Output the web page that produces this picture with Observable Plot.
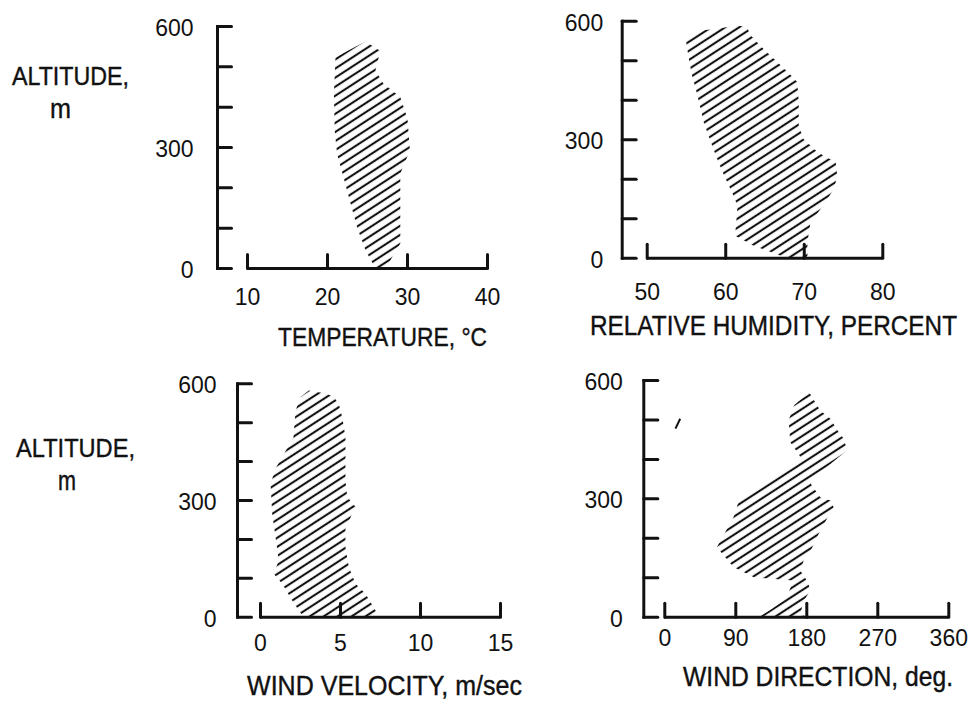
<!DOCTYPE html>
<html>
<head>
<meta charset="utf-8">
<script src="https://cdn.jsdelivr.net/npm/d3@7"></script>
<script src="https://cdn.jsdelivr.net/npm/@observablehq/plot@0.6"></script>
<style>
  body { margin: 0; background: #fff; }
  #fig { position: relative; width: 972px; height: 701px; background: #fff; overflow: hidden;
         font-family: "Liberation Sans", Arial, sans-serif; color: #111; }
  #fig > svg { position: absolute; overflow: visible; }
</style>
</head>
<body>
<svg width="0" height="0" style="position:absolute">
  <defs>
    <pattern id="hatch" patternUnits="userSpaceOnUse" width="12" height="7.6" patternTransform="rotate(-33)">
      <line x1="0" y1="3.8" x2="12" y2="3.8" stroke="#111" stroke-width="2.1"></line>
    </pattern>
  </defs>
</svg>
<div id="fig"></div>
<script>
// ---- axis ticks ----
const altTicks = [0, 100, 200, 300, 400, 500, 600];
const altLabels = [0, 300, 600];
const tempTicks = [10, 20, 30, 40];
const humidityTicks = [50, 60, 70, 80];
const velocityTicks = [0, 5, 10, 15];
const directionTicks = [0, 90, 180, 270, 360];

// ---- observed envelopes: [value, altitude m], outline traced around the hatched band ----
const tempBand = [
  [26.0, 0], [24.75, 45], [23.7, 102], [22.9, 160], [22.0, 226], [21.2, 284], [20.9, 342],
  [20.8, 433], [21.0, 524], [24.75, 563], [26.6, 539], [26.0, 491], [27.0, 458], [29.1, 425],
  [30.0, 371], [30.3, 293], [29.1, 235], [29.1, 62], [27.6, 12], [26.8, 0]
];
const humidityBand = [
  [67.9, 0], [63.5, 32], [61.2, 57], [61.5, 133], [60.8, 167], [59.8, 209], [58.9, 252],
  [58.1, 294], [57.2, 344], [56.4, 412], [55.7, 463], [55.3, 505], [54.9, 555], [57.2, 577],
  [59.3, 582], [61.5, 589], [62.7, 585], [63.2, 564], [64.6, 534], [66.6, 496], [68.3, 463],
  [69.1, 446], [69.3, 395], [69.3, 336], [69.9, 302], [71.7, 268], [74.0, 243], [74.2, 209],
  [73.8, 176], [72.1, 125], [70.8, 91], [70.4, 41], [70.4, 0]
];
const velocityBand = [
  [2.69, 0], [1.98, 43], [1.36, 86], [0.83, 112], [1.14, 146], [0.94, 206], [0.73, 266],
  [0.63, 343], [0.94, 382], [2.06, 462], [2.19, 531], [2.5, 566], [3.02, 583], [3.64, 578],
  [4.17, 574], [4.58, 566], [4.89, 549], [5.11, 514], [5.31, 463], [5.31, 351], [5.42, 309],
  [6.04, 279], [5.73, 266], [5.31, 227], [5.31, 180], [5.52, 129], [5.94, 86], [6.56, 60],
  [7.19, 17], [7.29, 0]
];
const directionBand = [
  [119, 0], [135, 20], [150, 42], [158, 68], [163, 93], [113, 101], [87, 127], [66, 177],
  [87, 253], [94, 296], [113, 321], [130, 351], [157, 376], [172, 406], [159, 444], [157, 499],
  [164, 537], [183, 570], [197, 524], [210, 503], [219, 473], [227, 452], [231, 423], [200, 372],
  [185, 338], [197, 304], [210, 296], [214, 279], [197, 220], [185, 169], [176, 144], [172, 118],
  [180, 93], [185, 68], [176, 42], [172, 9], [180, 0]
];
// stray hatch stroke in the wind-direction panel: [deg1, alt1, deg2, alt2]
const directionStray = [[13.5, 478, 19.5, 503]];

// ---- layout (page pixels) ----
const panels = [
  { band: tempBand, ticks: tempTicks, left: 0, top: 0, w: 520, h: 350,
    frameX: 217, xStart: 247, xEnd: 487, yTop: 26, yBottom: 268, yPad: 24, xPad: 20 },
  { band: humidityBand, ticks: humidityTicks, left: 452, top: 0, w: 520, h: 350,
    frameX: 621.7, xStart: 646.7, xEnd: 882.3, yTop: 20.7, yBottom: 257.7, yPad: 19, xPad: 25 },
  { band: velocityBand, ticks: velocityTicks, left: 0, top: 350, w: 520, h: 351,
    frameX: 237, xStart: 260, xEnd: 500, yTop: 383.3, yBottom: 616.7, yPad: 21, xPad: 17 },
  { band: directionBand, ticks: directionTicks, stray: directionStray, left: 452, top: 350, w: 520, h: 351,
    frameX: 643.3, xStart: 664.3, xEnd: 948.3, yTop: 380, yBottom: 616.7, yPad: 21, xPad: 12 }
];

const titles = [
  { text: "ALTITUDE,", x: 12, y: 84.5, len: 117, size: 26 },
  { text: "m", x: 50, y: 118.3, len: 21, size: 27 },
  { text: "TEMPERATURE, °C", x: 278, y: 346, len: 209, size: 25 },
  { text: "RELATIVE HUMIDITY, PERCENT", x: 590, y: 335, len: 367, size: 27 },
  { text: "ALTITUDE,", x: 16, y: 457, len: 119, size: 26 },
  { text: "m", x: 58, y: 490, len: 18, size: 27 },
  { text: "WIND VELOCITY, m/sec", x: 247, y: 695, len: 275, size: 27 },
  { text: "WIND DIRECTION, deg.", x: 683, y: 686, len: 270, size: 27 }
];

const tickShape = { draw(ctx, l) { ctx.moveTo(0, 0); ctx.lineTo(0, -l); } };
const fig = document.getElementById("fig");

for (const p of panels) {
  const last = p.ticks[p.ticks.length - 1];
  const marks = [
    Plot.line(p.band, { x: d => d[0], y: d => d[1], fill: "url(#hatch)", stroke: "none" }),
    Plot.frame({ anchor: "left", strokeWidth: 3 }),
    Plot.ruleY([0], { x1: p.ticks[0], x2: last, strokeWidth: 3 }),
    Plot.vector(altTicks, { y: d => d, frameAnchor: "left", rotate: 90, length: 14, anchor: "start", shape: tickShape, strokeWidth: 3 }),
    Plot.vector(p.ticks, { x: d => d, frameAnchor: "bottom", rotate: 0, length: 14, anchor: "start", shape: tickShape, strokeWidth: 3 }),
    Plot.axisY({ ticks: altLabels, tickSize: 0, tickPadding: p.yPad, fontSize: 23, label: null, dy: 2 }),
    Plot.axisX({ ticks: p.ticks, tickSize: 0, tickPadding: p.xPad, fontSize: 23, label: null })
  ];
  if (p.stray) {
    marks.push(Plot.link(p.stray, { x1: d => d[0], y1: d => d[1], x2: d => d[2], y2: d => d[3], strokeWidth: 2, stroke: "#111" }));
  }
  const svg = Plot.plot({
    width: p.w,
    height: p.h,
    marginLeft: p.frameX - p.left,
    marginRight: p.left + p.w - p.xEnd,
    marginTop: p.yTop - p.top,
    marginBottom: p.top + p.h - p.yBottom,
    x: { domain: [p.ticks[0], last], insetLeft: p.xStart - p.frameX },
    y: { domain: [0, 600] },
    style: { background: "transparent", color: "#111", fontFamily: '"Liberation Sans", Arial, sans-serif', overflow: "visible" },
    marks
  });
  svg.style.left = p.left + "px";
  svg.style.top = p.top + "px";
  fig.appendChild(svg);
}

// axis titles: fitted to the reference width, stretched vertically like the condensed lettering
const overlay = d3.select(fig).append("svg")
  .attr("width", 972).attr("height", 701)
  .style("left", "0px").style("top", "0px")
  .style("font-family", '"Liberation Sans", Arial, sans-serif');
overlay.selectAll("text").data(titles).join("text")
  .attr("fill", "#111")
  .attr("stroke", "#111")
  .attr("stroke-width", 0.35)
  .attr("font-size", d => d.size)
  .text(d => d.text)
  .each(function (d) {
    const natural = this.getComputedTextLength();
    const f = d.size * Math.min(1, (d.len * 0.98) / natural);
    const sy = d.size / f;
    d3.select(this)
      .attr("font-size", f)
      .attr("x", 0).attr("y", 0)
      .attr("transform", `translate(${d.x},${d.y}) scale(1,${sy})`)
      .attr("textLength", d.len)
      .attr("lengthAdjust", "spacingAndGlyphs");
  });
</script>
</body>
</html>
